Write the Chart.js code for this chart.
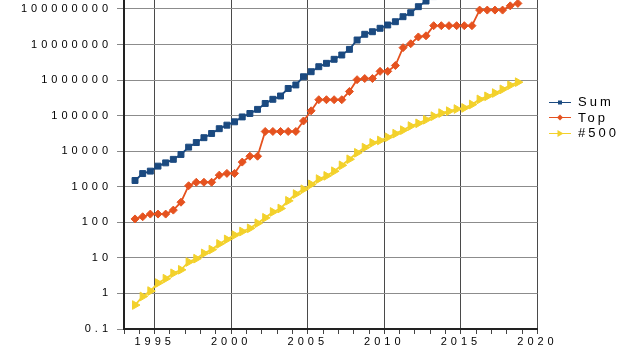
<!DOCTYPE html>
<html>
<head>
<meta charset="utf-8">
<script src="https://cdn.jsdelivr.net/npm/chart.js@4.4.0/dist/chart.umd.min.js"></script>
<style>
html, body { margin: 0; padding: 0; background: #fff; width: 620px; height: 348px; overflow: hidden; position: relative; }
#wrap { position: absolute; left: 0; top: -40px; width: 620px; height: 388px; }
#legend { position: absolute; left: 549px; top: 94px; font: 13px "Liberation Sans", Arial, sans-serif; letter-spacing: 3px; color: #000; }
.row { height: 15.5px; display: flex; align-items: center; }
.row canvas { width: 22px; height: 12px; margin-right: 7px; }
</style>
</head>
<body>
<div id="wrap"><canvas id="chart" width="620" height="388"></canvas></div>
<div id="legend"></div>
<script>
// one entry per list, Nov 1993 .. Nov 2018 (plotted position in years)
const listTime = [1993.72, 1994.22, 1994.72, 1995.22, 1995.72, 1996.22, 1996.72, 1997.22, 1997.72, 1998.22,
    1998.72, 1999.22, 1999.72, 2000.22, 2000.72, 2001.22, 2001.72, 2002.22, 2002.72, 2003.22,
    2003.72, 2004.22, 2004.72, 2005.22, 2005.72, 2006.22, 2006.72, 2007.22, 2007.72, 2008.22,
    2008.72, 2009.22, 2009.72, 2010.22, 2010.72, 2011.22, 2011.72, 2012.22, 2012.72, 2013.22,
    2013.72, 2014.22, 2014.72, 2015.22, 2015.72, 2016.22, 2016.72, 2017.22, 2017.72, 2018.22, 2018.72];

const sumPerf = [1500, 2350, 2750, 3800, 4700, 5900, 8100, 13000, 17500, 24000,
    31500, 43000, 54000, 67000, 92000, 115000, 150000, 220000, 288000, 357000,
    580000, 730000, 1240000, 1720000, 2380000, 2960000, 3840000, 5070000, 7300000, 13400000,
    19400000, 22900000, 28600000, 35400000, 43800000, 60600000, 78500000, 116000000, 167000000, 223000000,
    250000000, 274000000, 309000000, 363000000, 420000000, 567000000, 672000000, 749000000, 845000000, 1220000000, 1414000000];

const topPerf = [124.5, 143.4, 170.4, 170.4, 170.4, 220.4, 368.2, 1068, 1338, 1338,
    1338, 2121, 2379, 2379, 4938, 7226, 7226, 35860, 35860, 35860,
    35860, 35860, 70720, 136800, 280600, 280600, 280600, 280600, 478200, 1026000,
    1105000, 1105000, 1759000, 1759000, 2566000, 8162000, 10510000, 16325000, 17590000, 33863000,
    33863000, 33863000, 33863000, 33863000, 33863000, 93015000, 93015000, 93015000, 93015000, 122300000, 143500000];

const lastPerf = [0.472, 0.822, 1.166, 1.957, 2.6, 3.69, 4.62, 7.67, 9.51, 13.39,
    17.1, 24.7, 33.1, 43.8, 55.1, 67.8, 94.3, 134.3, 195.8, 245.1,
    403.4, 624, 850.6, 1166, 1646, 2026, 2737, 4005, 5929, 9000,
    12640, 17090, 20050, 24670, 31120, 39100, 50940, 60820, 76500, 96620,
    117800, 133700, 153400, 164700, 206300, 286100, 349300, 432200, 548700, 715600, 874800];

const seriesNames = ["Sum", "Top", "#500"];
const yTicks = [0.1, 1, 10, 100, 1000, 10000, 100000, 1000000, 10000000, 100000000, 1000000000];
const yTickLabels = ["0.1", "1", "10", "100", "1000", "10000", "100000", "1000000", "10000000", "100000000", "1000000000"];

const colors = ["#1b4a80", "#e5521f", "#f3d12b"];
const styles = [
    { pointStyle: "rect", pointRadius: 4.2, rotation: 0 },
    { pointStyle: "rectRot", pointRadius: 4, rotation: 0 },
    { pointStyle: "triangle", pointRadius: 5, rotation: 90 },
];

Chart.defaults.font.family = '"Liberation Sans", Arial, sans-serif';

const spacing = {
    id: "spacing",
    beforeLayout(chart) { chart.ctx.letterSpacing = "4px"; },
    beforeDraw(chart) { chart.ctx.letterSpacing = "4px"; },
};

const values = [sumPerf, topPerf, lastPerf];
const datasets = seriesNames.map((name, k) => ({
    label: name,
    data: listTime.map((t, i) => ({ x: t, y: values[k][i] })),
    borderColor: colors[k],
    backgroundColor: colors[k],
    borderWidth: 1.8,
    pointStyle: styles[k].pointStyle,
    pointRadius: styles[k].pointRadius,
    pointRotation: styles[k].rotation,
    pointBorderWidth: 1,
}));

const chart = new Chart(document.getElementById("chart"), {
    type: "line",
    data: { datasets: datasets },
    plugins: [spacing],
    options: {
        responsive: false,
        animation: false,
        layout: { padding: { left: 0, right: 82.5, top: 13.4, bottom: 0 } },
        plugins: { legend: { display: false }, tooltip: { enabled: false } },
        scales: {
            x: {
                type: "linear",
                min: 1993,
                max: 2020,
                border: { color: "#222", width: 2 },
                grid: {
                    color: (c) => (c.tick && c.tick.value % 5 === 0 ? "#4a4a4a" : "rgba(0,0,0,0)"),
                    tickColor: "#444",
                    tickLength: 5,
                    lineWidth: 1,
                },
                ticks: {
                    stepSize: 1,
                    autoSkip: false,
                    maxRotation: 0,
                    padding: 1,
                    color: "#000",
                    font: { size: 11 },
                    callback: (v) => (v % 5 === 0 ? String(v) : ""),
                },
                afterFit: (s) => { s.height = 19; },
            },
            y: {
                type: "logarithmic",
                min: 0.1,
                max: 1000000000,
                border: { color: "#222", width: 2 },
                grid: { color: "#8c8c8c", tickColor: "#888", tickLength: 7, lineWidth: 1 },
                ticks: {
                    padding: 5,
                    color: "#000",
                    font: { size: 11 },
                    callback: (v) => yTickLabels[yTicks.indexOf(v)],
                },
                afterBuildTicks: (s) => { s.ticks = yTicks.map((v) => ({ value: v })); },
                afterFit: (s) => { s.width = 124; },
            },
        },
    },
});

// html legend: line with marker, then the name
const legend = document.getElementById("legend");
chart.data.datasets.forEach((ds, k) => {
    const row = document.createElement("div");
    row.className = "row";
    const sw = document.createElement("canvas");
    sw.width = 22;
    sw.height = 12;
    const c = sw.getContext("2d");
    c.strokeStyle = colors[k];
    c.fillStyle = colors[k];
    c.lineWidth = 1;
    c.beginPath();
    c.moveTo(0, 6.5);
    c.lineTo(22, 6.5);
    c.stroke();
    c.beginPath();
    if (k === 0) {
        c.rect(9, 4.5, 4, 4);
    } else if (k === 1) {
        c.moveTo(11, 3.5); c.lineTo(14, 6.5); c.lineTo(11, 9.5); c.lineTo(8, 6.5);
    } else {
        c.moveTo(14.5, 6.5); c.lineTo(8.5, 3); c.lineTo(8.5, 10);
    }
    c.closePath();
    c.fill();
    row.appendChild(sw);
    const txt = document.createElement("span");
    txt.textContent = ds.label;
    row.appendChild(txt);
    legend.appendChild(row);
});
</script>
</body>
</html>
